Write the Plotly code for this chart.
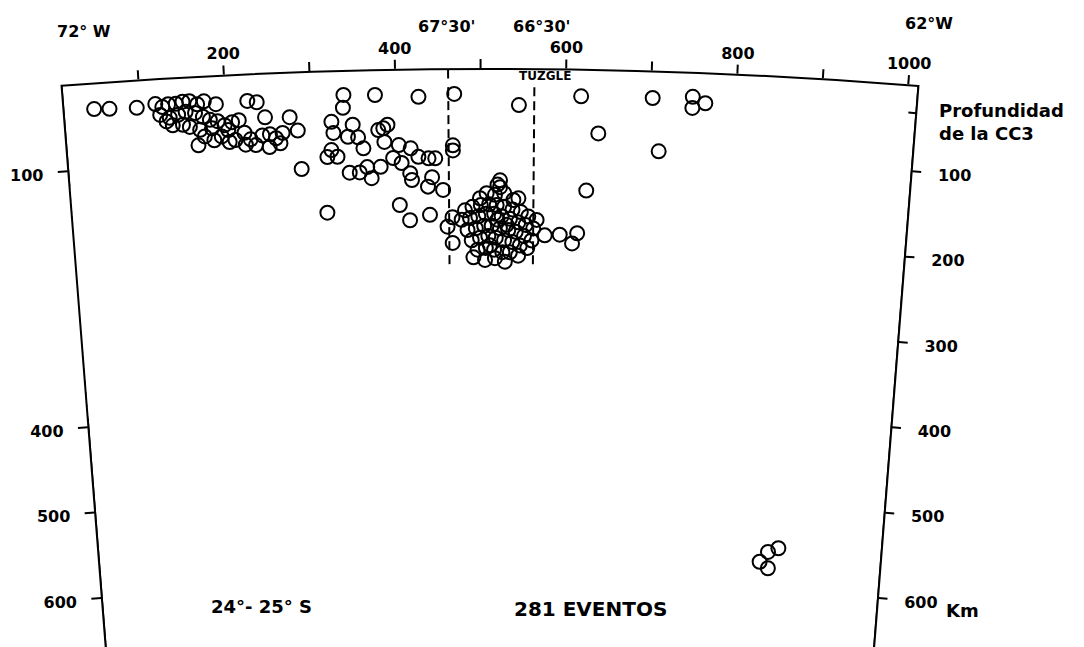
import numpy as np
import plotly.graph_objects as go

# ---------------------------------------------------------------------------
# Section geometry: distance along the profile (km) and depth (km) drawn on
# a true-curvature Earth cross-section.
# ---------------------------------------------------------------------------
EARTH_R = 6371.0            # km
R_PX = 5454                 # pixel radius of the surface arc
KM_APEX = 510.0             # profile distance under the top of the arc
KM_LEFT, KM_RIGHT = 10.0, 1012.0   # 72 W ... 62 W
DEPTH_MAX = 700.0
APEX_X, APEX_Y = 489.2, 69
WIDTH = 1084
FONT = "DejaVu Sans"

# ---------------------------------------------------------------------------
# Data
# ---------------------------------------------------------------------------
event_km = [
    46, 64, 96, 118, 126, 133, 142, 150, 158, 167, 175, 189, 123, 130, 137, 134,
    144, 153, 164, 173, 181, 190, 198, 207, 215, 226, 237, 246, 275, 284, 169, 174,
    166, 185, 194, 202, 210, 221, 228, 234, 242, 251, 258, 266, 250, 263, 222, 203,
    157, 149, 183, 287,
    339, 376, 427, 469, 338, 545, 618, 324, 349, 326, 385, 390, 379, 343, 355, 361,
    386, 403, 417, 318, 330, 323, 426, 438, 446, 467, 467, 344, 365, 370, 356, 381,
    396, 406, 416, 418, 442, 437, 455, 316, 403, 415, 439, 466, 460, 466, 523, 523,
    507, 545, 626, 491, 529, 577, 595, 616, 610,
    702, 749, 749, 764, 639, 711,
    857, 868, 867, 880,
    481, 490, 500, 510, 519, 528, 538, 548, 557, 567, 477, 487, 497, 506, 516, 525,
    535, 545, 554, 563, 484, 494, 504, 513, 523, 533, 542, 552, 561, 489, 499, 509,
    518, 528, 538, 547, 556, 496, 506, 516, 526, 535, 545, 505, 517, 511, 520, 531,
    520, 517, 528, 539, 499,
]
event_depth = [
    30, 31, 32, 29, 33, 30, 30, 28, 28, 32, 29, 33, 42, 50, 55, 46,
    43, 40, 42, 47, 51, 53, 58, 55, 53, 31, 33, 51, 52, 68, 62, 70,
    80, 75, 71, 64, 76, 68, 76, 83, 72, 71, 76, 70, 86, 82, 82, 78,
    58, 55, 61, 113,
    28, 29, 32, 29, 43, 42, 31, 59, 63, 72, 68, 64, 70, 77, 78, 91,
    84, 88, 92, 100, 100, 92, 102, 104, 104, 89, 95, 119, 113, 126, 119, 113,
    103, 109, 121, 129, 126, 137, 141, 165, 158, 176, 170, 173, 184, 203, 130, 138,
    145, 151, 141, 220, 225, 194, 193, 191, 203,
    31, 28, 41, 35, 74, 93,
    567, 574, 555, 550,
    165, 161, 159, 158, 159, 161, 164, 167, 172, 176, 176, 174, 172, 169, 169, 172,
    175, 179, 182, 186, 188, 186, 183, 183, 186, 188, 190, 195, 200, 200, 197, 195,
    197, 200, 202, 206, 209, 211, 209, 211, 214, 214, 218, 223, 221, 206, 176, 182,
    135, 147, 145, 153, 151,
]

dist_ticks = [100, 200, 300, 400, 500, 600, 700, 800, 900, 1000]
dist_labels = ["", "200", "", "400", "", "600", "", "800", "", "1000"]
depth_ticks_right = [100, 200, 300, 400, 500, 600]
depth_ticks_left = [100, 400, 500, 600]
cc3_depth = 32                 # "Profundidad de la CC3" mark
lon_km = {"67°30'": 462, "66°30'": 563}
dashed_top, dashed_bottom = 21, 229
tuzgle_km = 562
left_solid = [(0, 118), (390, DEPTH_MAX)]
left_dotted = [(118, 160), (310, 390)]


def theta(km):
    return np.degrees((np.asarray(km, dtype=float) - KM_APEX) / EARTH_R)


def rad(depth):
    return EARTH_R - np.asarray(depth, dtype=float)


sector = [90 - float(theta(KM_RIGHT)), 90 - float(theta(KM_LEFT))]
hole = (EARTH_R - DEPTH_MAX) / EARTH_R

# place the sector: plotly centres its bounding box horizontally
c_lo, c_hi = np.cos(np.radians(sector[0])), np.cos(np.radians(sector[1]))
bbox_w = R_PX * (c_lo - c_hi)
x_off = APEX_X + R_PX * c_hi
margin_r = int(round(WIDTH - (2 * x_off + bbox_w)))
plot_w = WIDTH - margin_r
HEIGHT = APEX_Y + R_PX


def paper(px, py):
    return px / plot_w, 1 - (py - APEX_Y) / R_PX


def line_trace(r, th, width=2, dash="solid", subplot="polar", clip=True):
    return go.Scatterpolar(
        r=r, theta=th, mode="lines", line=dict(color="black", width=width, dash=dash),
        subplot=subplot, hoverinfo="skip", showlegend=False, cliponaxis=clip)


fig = go.Figure()

# events
fig.add_trace(go.Scatterpolar(
    r=rad(event_depth), theta=theta(event_km), mode="markers",
    marker=dict(symbol="circle-open", size=14, color="black",
                line=dict(width=2, color="black")),
    subplot="polar", hoverinfo="skip", showlegend=False))

# right edge of the section (62 W)
fig.add_trace(line_trace(rad([0, DEPTH_MAX]), theta([KM_RIGHT, KM_RIGHT]), clip=False))

# cross mark for the CC3 depth on the right edge
dth = 8 / R_PX * 180 / np.pi
fig.add_trace(line_trace(
    rad([cc3_depth, cc3_depth]),
    [float(theta(KM_RIGHT)) - dth, float(theta(KM_RIGHT)) + dth], clip=False))

# 67°30' and 66°30' meridians
for name, km in lon_km.items():
    fig.add_trace(line_trace(rad([dashed_top, dashed_bottom]), theta([km, km]),
                             dash="9px,5px"))
# inner tick on the surface at 67°30'
fig.add_trace(line_trace(rad([0, 11]), theta([lon_km["67°30'"]] * 2)))

# Tuzgle volcano
fig.add_trace(go.Scatterpolar(
    r=rad([-7]), theta=theta([tuzgle_km]), mode="markers",
    marker=dict(symbol="triangle-up", size=12, color="black"),
    subplot="polar", hoverinfo="skip", showlegend=False, cliponaxis=False))

# left edge (72 W): solid and dotted pieces
for d0, d1 in left_solid:
    fig.add_trace(line_trace(rad([d0, d1]), theta([KM_LEFT, KM_LEFT]),
                             subplot="polar2", clip=False))
for d0, d1 in left_dotted:
    fig.add_trace(line_trace(rad([d0, d1]), theta([KM_LEFT, KM_LEFT]), width=1.3,
                             dash="dot", subplot="polar2", clip=False))

tickfont = dict(family=FONT, size=16, color="black", weight="bold")
common = dict(sector=sector, hole=hole, domain=dict(x=[0, 1], y=[0, 1]))

fig.update_layout(
    width=WIDTH, height=HEIGHT,
    margin=dict(l=0, r=margin_r, t=APEX_Y, b=0, pad=0),
    paper_bgcolor="white",
    polar=dict(
        **common, bgcolor="white",
        angularaxis=dict(
            rotation=90, direction="clockwise", thetaunit="degrees",
            tickmode="array", tickvals=theta(dist_ticks).tolist(), ticktext=dist_labels,
            ticks="outside", ticklen=9, tickwidth=2, tickcolor="black",
            showline=True, linewidth=2, linecolor="black", showgrid=False,
            tickfont=tickfont),
        radialaxis=dict(
            range=[EARTH_R - DEPTH_MAX, EARTH_R], angle=sector[0], side="clockwise",
            tickmode="array", tickvals=rad(depth_ticks_right).tolist(),
            ticktext=["\u00a0" + str(d) for d in depth_ticks_right],
            ticks="outside", ticklen=9, tickwidth=2, tickcolor="black",
            showline=False, showgrid=False, tickangle=sector[0],
            tickfont=tickfont),
    ),
    polar2=dict(
        **common, bgcolor="rgba(0,0,0,0)",
        angularaxis=dict(rotation=90, direction="clockwise", visible=False),
        radialaxis=dict(
            range=[EARTH_R - DEPTH_MAX, EARTH_R], angle=sector[1], side="counterclockwise",
            tickmode="array", tickvals=rad(depth_ticks_left).tolist(),
            ticktext=[str(d) for d in depth_ticks_left],
            ticks="outside", ticklen=10, tickwidth=2, tickcolor="black",
            showline=False, showgrid=False, tickangle=sector[1],
            tickfont=tickfont),
    ),
)

notes = [
    ("72° W", 84, 31, 16, "center"),
    ("62°W", 929, 23, 16, "center"),
    ("67°30'", 446, 27, 16, "center"),
    ("66°30'", 541, 27, 16, "center"),
    ("TUZGLE", 545, 76, 12, "center"),
    ("Profundidad<br>de la CC3", 937, 122, 18, "left"),
    ("24°- 25° S", 261, 607, 18, "center"),
    ("281 EVENTOS", 590, 609, 20, "center"),
    ("Km", 962, 610, 18, "center"),
]
for text, px, py, size, align in notes:
    xp, yp = paper(px, py)
    fig.add_annotation(
        x=xp, y=yp, xref="paper", yref="paper", text=text, showarrow=False,
        xanchor="left" if align == "left" else "center", yanchor="middle",
        align=align, font=dict(family=FONT, size=size, color="black", weight="bold"))

fig.write_html("out.html")
